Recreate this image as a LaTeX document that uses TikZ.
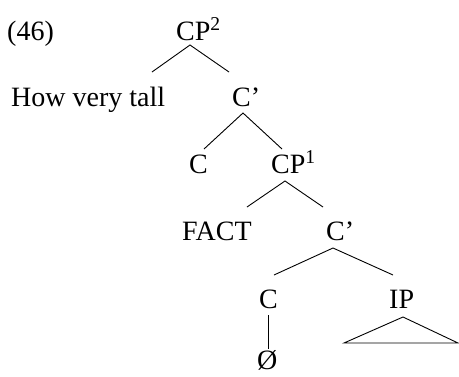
\documentclass[tikz,border=0pt]{standalone}
\usepackage{fontspec}
\setmainfont{Liberation Serif}
\begin{document}
\begin{tikzpicture}[x=1pt,y=-1pt,
  lab/.style={anchor=base west, inner sep=0pt, font=\fontsize{28}{33}\selectfont},
  branch/.style={line width=0.9pt, black}]
\useasboundingbox (0,0) rectangle (459,376);
% labels
\node[lab] (ex)   at (7,40)    {(46)};
\node[lab] (cp2)  at (176,40)  {CP\textsuperscript{2}};
\node[lab] (how)  at (11,106.5) {How very tall};
\node[lab] (cbar1) at (232,106.5) {C'};
\node[lab] (c1)   at (189,173) {C};
\node[lab] (cp1)  at (271,173) {CP\textsuperscript{1}};
\node[lab] (fact) at (182,240) {FACT};
\node[lab] (cbar2) at (326,240) {C'};
\node[lab] (c2)   at (259,308.5) {C};
\node[lab] (ip)   at (389,308.5) {IP};
\node[lab] (null) at (257,369) {Ø};
% branch points
\coordinate (a1) at (190,45);  \coordinate (l1) at (152,72);  \coordinate (r1) at (229,72);
\coordinate (a2) at (243,113); \coordinate (l2) at (204,149); \coordinate (r2) at (282,149);
\coordinate (a3) at (285,181); \coordinate (l3) at (247,207); \coordinate (r3) at (323,207);
\coordinate (a4) at (333,248); \coordinate (l4) at (274,275); \coordinate (r4) at (393,275);
\coordinate (v1) at (268,315); \coordinate (v2) at (268,349);
\coordinate (ta) at (403,317); \coordinate (tl) at (344,343); \coordinate (tr) at (458,343);
\draw[branch] (l1) -- (a1) -- (r1);
\draw[branch] (l2) -- (a2) -- (r2);
\draw[branch] (l3) -- (a3) -- (r3);
\draw[branch] (l4) -- (a4) -- (r4);
\draw[branch] (v1) -- (v2);
\draw[branch] (tl) -- (ta) -- (tr) -- cycle;
\end{tikzpicture}
\end{document}
